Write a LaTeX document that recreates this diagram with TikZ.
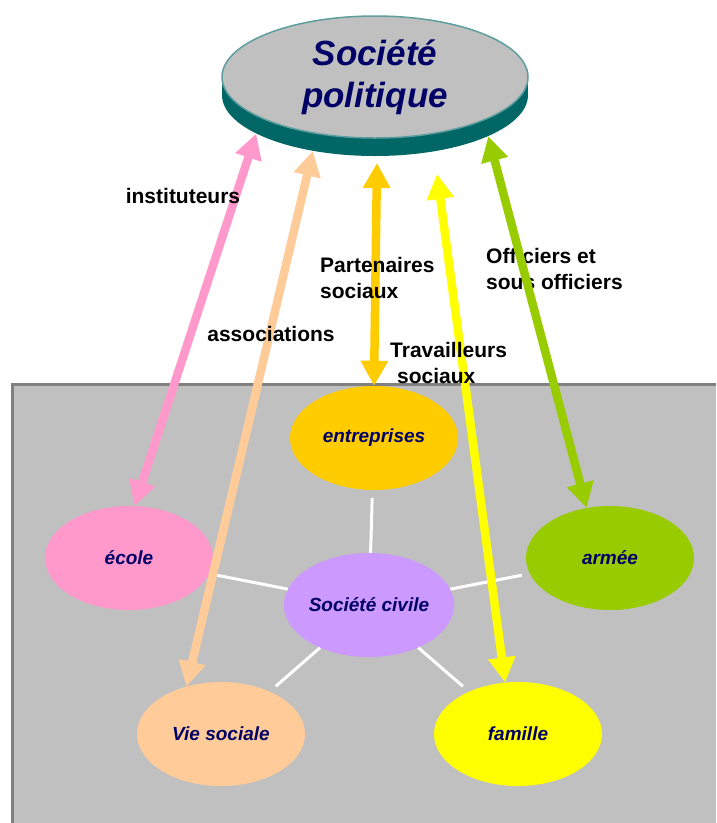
\documentclass[tikz,border=0pt]{standalone}
\usepackage{fontspec}
\setsansfont{Liberation Sans}
\usetikzlibrary{arrows.meta,shapes.geometric}
\definecolor{fond}{HTML}{C0C0C0}
\definecolor{bord}{HTML}{808080}
\definecolor{marine}{HTML}{000066}
\definecolor{sarcelle}{HTML}{006666}
\definecolor{liseret}{HTML}{5F9E9E}
\definecolor{rose}{HTML}{FF99CC}
\definecolor{peche}{HTML}{FFCC99}
\definecolor{or}{HTML}{FFCC00}
\definecolor{jaune}{HTML}{FFFF00}
\definecolor{vert}{HTML}{99CC00}
\definecolor{mauve}{HTML}{CC99FF}

\begin{document}
\begin{tikzpicture}[x=1pt,y=-1pt,
    bulle/.style={ellipse,minimum width=168pt,minimum height=104pt,inner sep=0pt,
      font=\sffamily\bfseries\itshape\fontsize{19}{23}\selectfont,text=marine},
    lien/.style={white,line width=3pt},
    fleche/.style={line width=8.5pt,{Triangle[width=26pt,length=25pt]}-{Triangle[width=26pt,length=25pt]}},
    etiq/.style={font=\sffamily\bfseries\fontsize{21}{26}\selectfont,align=left,inner sep=0pt}]
    \useasboundingbox (0,0) rectangle (716,823);

    % fond de la societe civile
    \fill[fond] (12,383) rectangle (716,823);
    \draw[bord,line width=3pt] (12,823)--(12,384.5)--(716,384.5);

    % disque de la societe politique
    \node[ellipse,fill=sarcelle,minimum width=306pt,minimum height=122pt,inner sep=0pt] (base) at (375,95) {};
    \fill[sarcelle] (222,77) rectangle (528,95);
    \node[ellipse,fill=fond,draw=liseret,line width=1.5pt,minimum width=306pt,minimum height=122pt,inner sep=0pt,
      font=\sffamily\bfseries\itshape\fontsize{35}{42}\selectfont,text=marine,align=center] (pol) at (375,77) {Société\\politique};

    % ellipses
    \node[bulle,fill=or] (ent) at (374,438) {entreprises};
    \node[bulle,fill=rose] (ecole) at (129,558) {école};
    \node[bulle,fill=vert] (arm) at (610,558) {armée};
    \node[bulle,fill=mauve] (civ) at (369,605) {Société civile};
    \node[bulle,fill=peche] (vie) at (221,734) {Vie sociale};
    \node[bulle,fill=jaune] (fam) at (518,734) {famille};

    \foreach \n in {ent,ecole,arm,vie,fam}
        \draw[lien,shorten >=8pt] (civ)--(\n);

    % fleches
    \coordinate (polO) at (377,163);
    \coordinate (polJ) at (437,174);
    \draw[fleche,rose] (base.198)--(ecole.84);
    \draw[fleche,peche] (base.222)--(vie.126);
    \draw[fleche,or] (polO)--(ent.north);
    \draw[fleche,jaune] (polJ)--(fam.104);

    \node[etiq] (inst) at (183,196) {instituteurs};
    \node[etiq] (assoc) at (271,334) {associations};
    \node[etiq,anchor=north west] (part) at (320,257) {Partenaires\\sociaux};
    \node[etiq,anchor=north west] (trav) at (390,342) {Travailleurs\\\hspace*{7pt}sociaux};
    \node[etiq,anchor=north west] (offi) at (486,248) {Officiers et\\sous officiers};

    \draw[fleche,vert] (base.-20)--(arm.115);
\end{tikzpicture}
\end{document}
